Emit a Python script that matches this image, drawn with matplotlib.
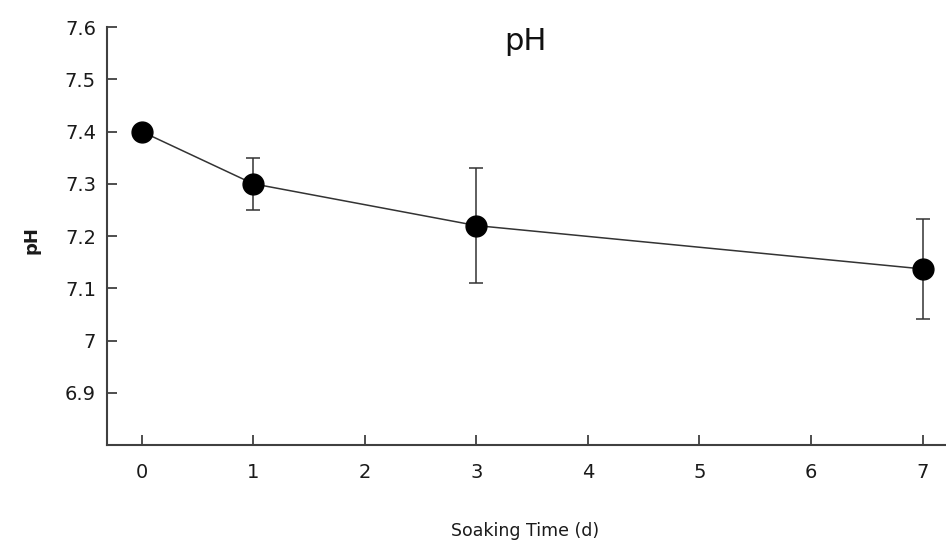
import matplotlib
matplotlib.use('Agg')
from matplotlib import pyplot as plt

days = [0, 1, 3, 7]
ph = [7.40, 7.30, 7.22, 7.137]
ph_err = [0.0, 0.05, 0.11, 0.095]
xticks = [0, 1, 2, 3, 4, 5, 6, 7]
yticks = [6.9, 7.0, 7.1, 7.2, 7.3, 7.4, 7.5, 7.6]
ytick_labels = ['6.9', '7', '7.1', '7.2', '7.3', '7.4', '7.5', '7.6']

plt.rcParams['font.family'] = ['DejaVu Sans']

fig = plt.figure(figsize=(9.46, 5.49), dpi=100)
ax = fig.add_axes([0.1131, 0.1894, 0.8869, 0.7614])

ax.errorbar(days, ph, yerr=ph_err, fmt='-o', color='#333333', mfc='black', mec='black',
            ms=15, lw=1.1, elinewidth=1.1, ecolor='#333333', capsize=5, capthick=1.1)

ax.set_xlim(-0.31, 7.21)
ax.set_ylim(6.8, 7.6)
ax.set_xticks(xticks)
ax.set_yticks(yticks)
ax.set_yticklabels(ytick_labels)
ax.tick_params(direction='in', length=7, width=1.3, color='#404040', labelsize=14, labelcolor='#1a1a1a')
ax.tick_params(axis='x', pad=13)
ax.tick_params(axis='y', pad=8)

for s in ['top', 'right']:
    ax.spines[s].set_visible(False)
for s in ['left', 'bottom']:
    ax.spines[s].set_color('#404040')
    ax.spines[s].set_linewidth(1.5)

fig.text(0.555, 0.925, 'pH', fontsize=22, ha='center', va='center', color='#111111')
fig.text(0.033, 0.563, 'pH', fontsize=13, rotation=90, ha='center', va='center', color='#1a1a1a',
         fontweight='bold')
fig.text(0.555, 0.033, 'Soaking Time (d)', fontsize=12.5, ha='center', va='center', color='#1a1a1a')

fig.savefig('out.png', dpi=100)
